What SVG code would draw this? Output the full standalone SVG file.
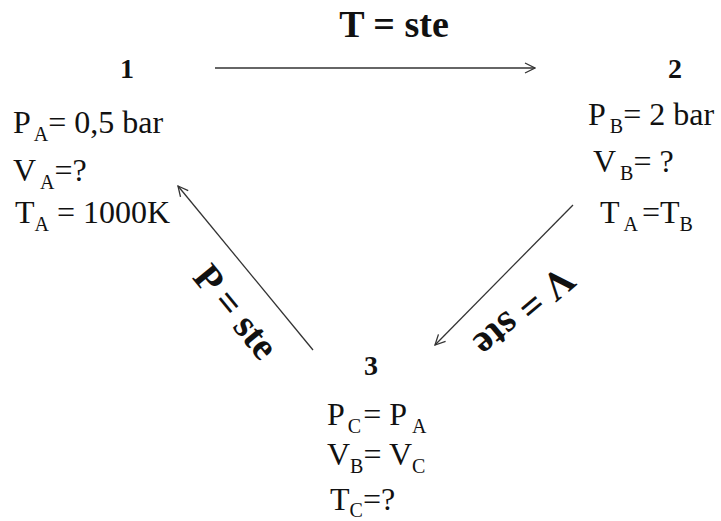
<svg xmlns="http://www.w3.org/2000/svg" width="721" height="521" viewBox="0 0 721 521">
<style>
text{font-family:'Liberation Serif','DejaVu Serif',serif;fill:#111}
.v{font-size:32px}
.s{font-size:20px}
.b{font-weight:bold}
.c{stroke:#333;stroke-width:1.3;fill:none}
</style>
<defs>
<marker id="ah" viewBox="0 0 12 12" refX="11" refY="6" markerWidth="12" markerHeight="12" markerUnits="userSpaceOnUse" orient="auto">
<path d="M1,1 L11,6 L1,11" fill="none" stroke="#333" stroke-width="1.3"/>
</marker>
</defs>
<rect width="721" height="521" fill="#fff"/>
<g id="connectors">
<line class="c" x1="215" y1="68" x2="535" y2="68" marker-end="url(#ah)"/>
<line class="c" x1="573" y1="205" x2="435" y2="345" marker-end="url(#ah)"/>
<line class="c" x1="313" y1="350" x2="178" y2="186" marker-end="url(#ah)"/>
<text class="b" x="394" y="37" font-size="38" text-anchor="middle">T = ste</text>
<text class="b" font-size="39" text-anchor="middle" transform="translate(226,320) rotate(50.7)">P = ste</text>
<text class="b" font-size="40" text-anchor="middle" transform="translate(516,302) rotate(140)">V = ste</text>
</g>
<g id="node1">
<text class="b" x="127" y="78" font-size="28" text-anchor="middle">1</text>
<text class="v" x="13" y="133">P<tspan class="s" dx="3" dy="8">A</tspan><tspan dy="-8">= 0,5 bar</tspan></text>
<text class="v" x="13" y="181">V<tspan class="s" dx="4" dy="8">A</tspan><tspan dy="-8">=?</tspan></text>
<text class="v" x="15" y="223">T<tspan class="s" dy="8">A</tspan><tspan dy="-8"> = 1000K</tspan></text>
</g>
<g id="node2">
<text class="b" x="675" y="78" font-size="28" text-anchor="middle">2</text>
<text class="v" x="588" y="125">P<tspan class="s" dx="4" dy="8">B</tspan><tspan dy="-8">= 2 bar</tspan></text>
<text class="v" x="593" y="172">V<tspan class="s" dx="4" dy="8">B</tspan><tspan dy="-8">= ?</tspan></text>
<text class="v" x="600" y="223">T<tspan class="s" dx="4" dy="8">A</tspan><tspan dx="4" dy="-8">=T</tspan><tspan class="s" dy="8">B</tspan></text>
</g>
<g id="node3">
<text class="b" x="371" y="375" font-size="28" text-anchor="middle">3</text>
<text class="v" x="327" y="425">P<tspan class="s" dx="3" dy="8">C</tspan><tspan dx="2" dy="-8">= P</tspan><tspan class="s" dx="5" dy="8">A</tspan></text>
<text class="v" x="327" y="465">V<tspan class="s" dy="8">B</tspan><tspan dy="-8">= V</tspan><tspan class="s" dy="8">C</tspan></text>
<text class="v" x="330" y="510">T<tspan class="s" dy="7">C</tspan><tspan dy="-7">=?</tspan></text>
</g>
</svg>
